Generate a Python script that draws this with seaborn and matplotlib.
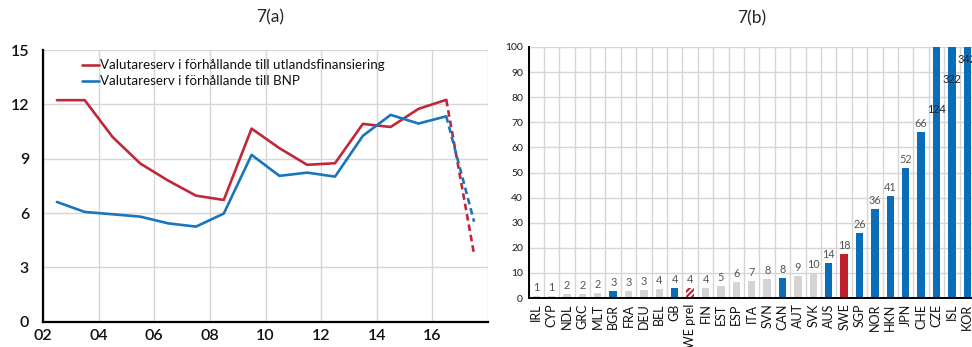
import numpy as np
import pandas as pd
import matplotlib
matplotlib.use("Agg")
import matplotlib.pyplot as plt
import seaborn as sns

# ---- Panel (a): reserve ratios by year ----
years = [2002, 2003, 2004, 2005, 2006, 2007, 2008, 2009, 2010, 2011,
         2012, 2013, 2014, 2015, 2016, 2017]
reserve_vs_foreign_funding = [12.23, 12.23, 10.2, 8.73, 7.79, 6.96, 6.72, 10.66,
                              9.58, 8.66, 8.75, 10.92, 10.75, 11.75, 12.25, 3.72]
reserve_vs_gdp = [6.61, 6.06, 5.93, 5.8, 5.43, 5.25, 5.97, 9.21,
                  8.05, 8.23, 8.01, 10.26, 11.42, 10.94, 11.34, 5.52]
label_funding = "Valutareserv i förhållande till utlandsfinansiering"
label_gdp = "Valutareserv i förhållande till BNP"

# ---- Panel (b): country comparison ----
countries = ["IRL", "CYP", "NDL", "GRC", "MLT", "BGR", "FRA", "DEU", "BEL", "GB",
             "SWE prel", "FIN", "EST", "ESP", "ITA", "SVN", "CAN", "AUT", "SVK",
             "AUS", "SWE", "SGP", "NOR", "HKN", "JPN", "CHE", "CZE", "ISL", "KOR"]
country_values = [0.6, 0.7, 1.6, 1.6, 2.0, 2.6, 2.6, 3.0, 3.6, 3.8,
                  4.0, 4.0, 4.6, 6.2, 6.6, 7.6, 8.1, 8.6, 9.9,
                  14.0, 17.6, 25.8, 35.6, 40.8, 51.8, 66.2, 124, 322, 342]
country_group = ["grey", "grey", "grey", "grey", "grey", "blue", "grey", "grey", "grey", "blue",
                 "prel", "grey", "grey", "grey", "grey", "grey", "blue", "grey", "grey",
                 "blue", "red", "blue", "blue", "blue", "blue", "blue", "blue", "blue", "blue"]

RED = "#c0283a"
BLUE = "#1a75bc"
BAR_BLUE = "#0b6db7"
BAR_RED = "#c01f2e"
GREY = "#d4d4d4"
GRID = "#d6d6d6"

sns.set_theme(style="white")
plt.rcParams["font.family"] = ["Lato", "DejaVu Sans"]
plt.rcParams["hatch.linewidth"] = 1.5

fig = plt.figure(figsize=(9.72, 3.47), dpi=100)
ax1 = fig.add_axes([43 / 972, 1 - 321.7 / 347, 445 / 972, 271.7 / 347])
ax2 = fig.add_axes([528.5 / 972, 1 - 298 / 347, 446.5 / 972, 251 / 347])

# ---------- Panel (a) ----------
df = pd.DataFrame({"year": np.array(years) + 0.5,
                   "funding": reserve_vs_foreign_funding,
                   "gdp": reserve_vs_gdp})
hist = df.iloc[:-1]
proj = df.iloc[-2:]
sns.lineplot(data=hist, x="year", y="funding", ax=ax1, color=RED, lw=1.9, label=label_funding)
sns.lineplot(data=hist, x="year", y="gdp", ax=ax1, color=BLUE, lw=1.9, label=label_gdp)
sns.lineplot(data=proj, x="year", y="funding", ax=ax1, color=RED, lw=1.9, ls=(0, (2.5, 1.5)))
sns.lineplot(data=proj, x="year", y="gdp", ax=ax1, color=BLUE, lw=1.9, ls=(0, (2.5, 1.5)))

ax1.set_xlim(2002, 2018)
ax1.set_ylim(0, 15)
ax1.set_xticks(range(2002, 2019, 2))
ax1.set_xticklabels([f"{y % 100:02d}" for y in range(2002, 2017, 2)] + [""])
ax1.set_yticks(range(0, 16, 3))
ax1.set_xlabel("")
ax1.set_ylabel("")
ax1.grid(True, color=GRID, lw=1)
ax1.set_axisbelow(True)
for s in ["top", "right"]:
    ax1.spines[s].set_visible(False)
for s in ["left", "bottom"]:
    ax1.spines[s].set_color("black")
    ax1.spines[s].set_linewidth(1.6)
ax1.tick_params(axis="both", direction="in", length=4, width=1.2, color="black",
                labelsize=11.5, labelcolor="#111111")
ax1.tick_params(axis="y", pad=10)
ax1.tick_params(axis="x", pad=5)
for t in ax1.get_xticklabels() + ax1.get_yticklabels():
    t.set_fontweight("semibold")
leg = ax1.legend(loc="upper left", bbox_to_anchor=(0.07, 0.995), frameon=False,
                 fontsize=9.6, handlelength=1.3, handletextpad=0.05,
                 labelspacing=0.3, borderaxespad=0.2)
for t in leg.get_texts():
    t.set_color("#111111")
ax1.set_title("7(a)", fontsize=12.5, pad=20, x=0.51)

# ---------- Panel (b) ----------
palette = {"grey": GREY, "blue": BAR_BLUE, "red": BAR_RED, "prel": "white"}
bdf = pd.DataFrame({"country": countries, "value": country_values, "group": country_group})
sns.barplot(data=bdf, x="country", y="value", hue="group", palette=palette,
            dodge=False, legend=False, width=0.48, ax=ax2, saturation=1)

for patch in ax2.patches:
    patch.set_linewidth(0)
# hatched preliminary bar
prel_idx = countries.index("SWE prel")
for patch in ax2.patches:
    cx = patch.get_x() + patch.get_width() / 2
    if abs(cx - prel_idx) < 1e-6 and patch.get_height() > 0:
        patch.set_facecolor("white")
        patch.set_edgecolor(BAR_RED)
        patch.set_hatch("//////")
        patch.set_linewidth(0)

ax2.set_ylim(0, 100)
ax2.set_xlim(-0.5, len(countries) - 0.5)
ax2.set_yticks(range(0, 101, 10))
ax2.set_xticks(range(len(countries)))
ax2.set_xticklabels(countries, rotation=90, fontsize=9, color="#111111")
ax2.set_xticks(np.arange(-0.5, len(countries), 1), minor=True)
ax2.set_xlabel("")
ax2.set_ylabel("")
ax2.grid(False)
ax2.grid(True, axis="y", color=GRID, lw=1)
ax2.grid(True, axis="x", which="minor", color=GRID, lw=1)
ax2.set_axisbelow(True)
for s in ["top", "right"]:
    ax2.spines[s].set_visible(False)
for s in ["left", "bottom"]:
    ax2.spines[s].set_color("black")
    ax2.spines[s].set_linewidth(1.4)
ax2.tick_params(axis="x", which="major", length=0, pad=4)
ax2.tick_params(axis="x", which="minor", direction="inout", length=4, width=1.2, color="black")
ax2.tick_params(axis="y", direction="in", length=3, width=1.0, color="black",
                labelsize=7.5, pad=4, labelcolor="#1a1a1a")

# value labels; bars past the top of the scale get their label inside the bar
overflow_label_y = {"CZE": 75, "ISL": 87, "KOR": 95}
for i, (c, v) in enumerate(zip(countries, country_values)):
    txt = f"{v:.0f}"
    if v > 100:
        ax2.text(i, overflow_label_y[c], txt, ha="center", va="center",
                 fontsize=7.8, color="#222222", clip_on=False)
    else:
        ax2.text(i, v + 1.2, txt, ha="center", va="bottom",
                 fontsize=7.8, color="#555555")

ax2.set_title("7(b)", fontsize=12.5, pad=17, x=0.5)

fig.savefig("out.png", dpi=100)
